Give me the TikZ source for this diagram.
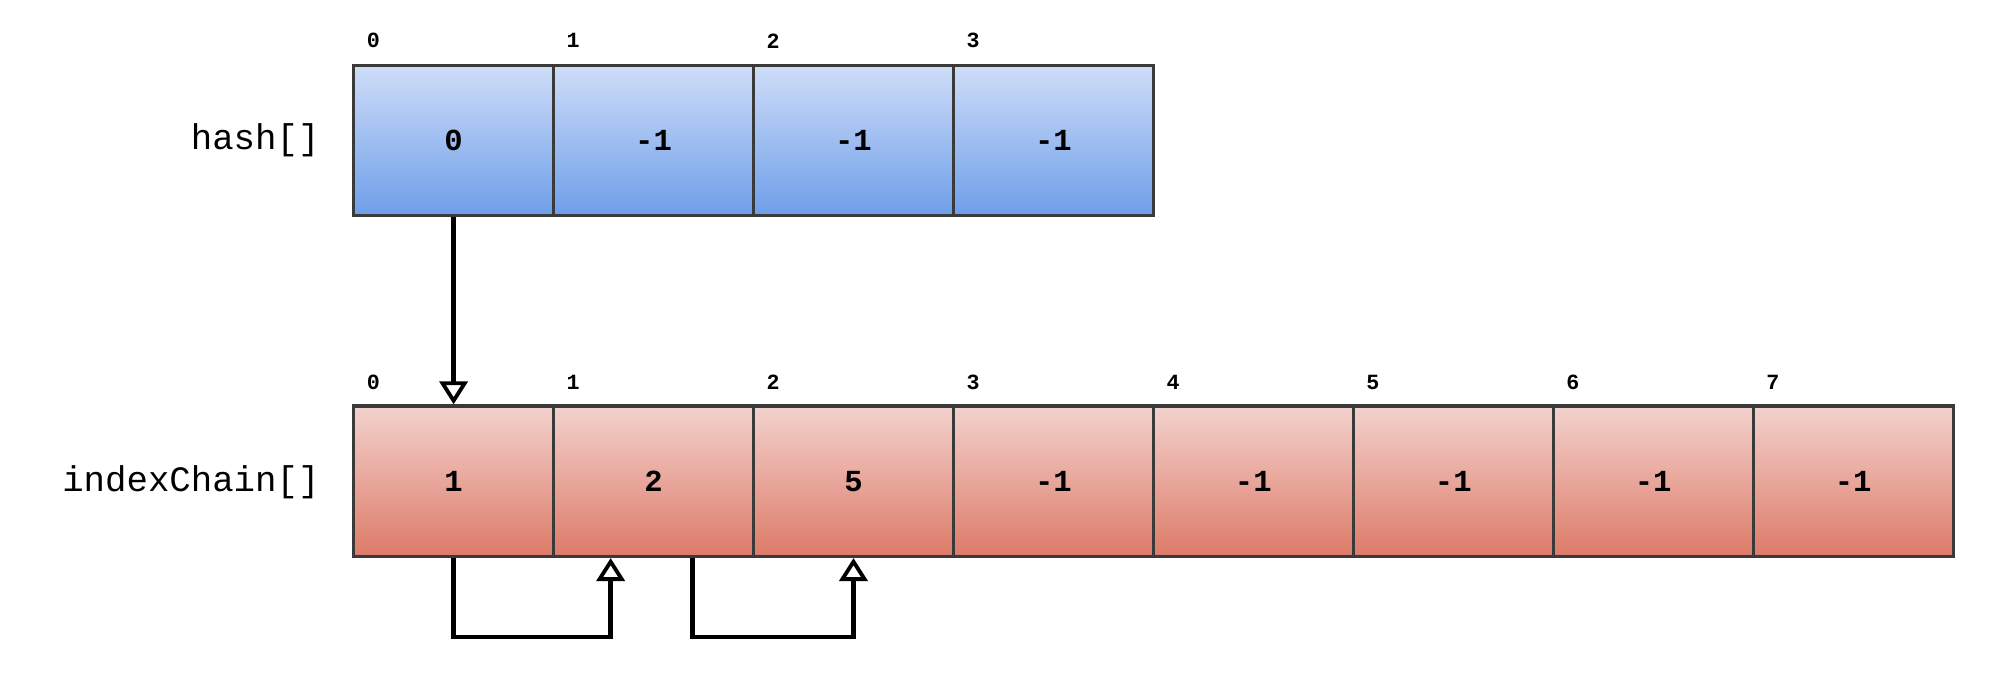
\documentclass[tikz,border=0pt]{standalone}
\usepackage{fontspec}
\setmonofont{Liberation Mono}
\usetikzlibrary{arrows.meta}
\definecolor{btop}{HTML}{CEDDF7}\definecolor{bbot}{HTML}{6E9EEA}
\definecolor{rtop}{HTML}{F3D2CD}\definecolor{rbot}{HTML}{DD7A68}
\definecolor{edge}{HTML}{3A3A3A}
\begin{document}
\begin{tikzpicture}[x=1pt,y=-1pt,
 cell/.style={draw=edge,line width=2.5pt,minimum width=156.75pt,minimum height=118pt,inner sep=0pt,anchor=north west,font=\ttfamily\bfseries\fontsize{24}{24}\selectfont},
 bcell/.style={cell,top color=btop,bottom color=bbot},
 rcell/.style={cell,top color=rtop,bottom color=rbot},
 idx/.style={font=\ttfamily\bfseries\fontsize{17}{17}\selectfont,anchor=west},
 lab/.style={font=\ttfamily\fontsize{28}{28}\selectfont,anchor=east},
 arr/.style={line width=3.5pt,-{Triangle[open,width=22pt,length=18pt,line width=3pt]}}]
\useasboundingbox (0,0) rectangle (1568,532);
\foreach \v [count=\i from 0] in {0,-1,-1,-1}{
  \node[bcell] (h\i) at ({276+156.75*\i},50) {\v};
  \node[idx] (hi\i) at ({276+156.75*\i+8},32) {\i};}
\foreach \v [count=\i from 0] in {1,2,5,-1,-1,-1,-1,-1}{
  \node[rcell] (c\i) at ({276+156.75*\i},317) {\v};
  \node[idx] (ci\i) at ({276+156.75*\i+8},300) {\i};}
\node[lab] (lh) at (254,110) {hash[]};
\node[lab] (lc) at (254,378) {indexChain[]};
\draw[arr] (h0.south) -- (c0.north);
\draw[arr] (c0.south) -- ++(0,62) -| ([xshift=46pt]c1.south west);
\draw[arr] ([xshift=110pt]c1.south west) -- ++(0,62) -| (c2.south);
\end{tikzpicture}
\end{document}
